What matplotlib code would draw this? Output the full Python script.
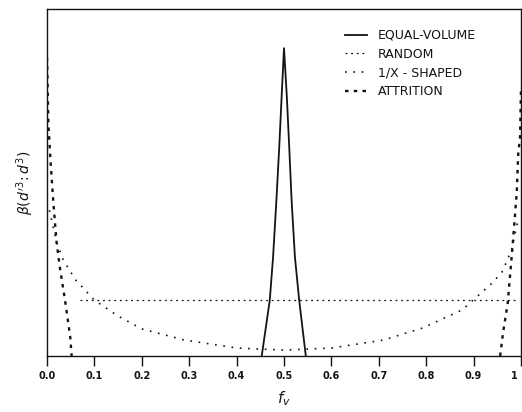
import matplotlib.pyplot as plt
import matplotlib.transforms as mtransforms
import numpy as np

# volume fraction f_v on x, relative weight beta on y (arbitrary units, 0..1)
ev_f = [0.453, 0.470, 0.477, 0.484, 0.490, 0.495, 0.500, 0.506, 0.511, 0.516, 0.523, 0.532, 0.546]
ev_b = [0.0, 0.161, 0.286, 0.45, 0.603, 0.747, 0.887, 0.747, 0.603, 0.45, 0.286, 0.161, 0.0]

rand_f = [0.07, 0.99]
rand_b = [0.161, 0.161]

inv_f = [0.005, 0.02, 0.034, 0.06, 0.10, 0.15, 0.20, 0.29, 0.40, 0.50,
         0.60, 0.71, 0.793, 0.876, 0.939, 0.96, 0.98, 0.995]
inv_b = [0.42, 0.33, 0.277, 0.22, 0.161, 0.115, 0.078, 0.046, 0.023, 0.017,
         0.023, 0.046, 0.081, 0.133, 0.21, 0.242, 0.305, 0.40]

attr_left_f = [0.0, 0.003, 0.008, 0.013, 0.020, 0.027, 0.038, 0.049, 0.052]
attr_left_b = [0.86, 0.666, 0.55, 0.45, 0.33, 0.256, 0.161, 0.055, 0.0]
attr_right_f = [0.956, 0.962, 0.972, 0.981, 0.987, 0.991, 0.994, 0.998, 1.0]
attr_right_b = [0.0, 0.066, 0.153, 0.297, 0.40, 0.47, 0.58, 0.63, 0.77]

xticks = [0.0, 0.1, 0.2, 0.3, 0.4, 0.5, 0.6, 0.7, 0.8, 0.9, 1.0]
xtick_labels = ['0.0', '0.1', '0.2', '0.3', '0.4', '0.5', '0.6', '0.7', '0.8', '0.9', '1']

ink = '#141414'

fig = plt.figure(figsize=(5.22, 4.12), dpi=100)
ax = fig.add_axes([47 / 522, 56 / 412, 474 / 522, 347 / 412])

ax.plot(ev_f, ev_b, color=ink, lw=1.3, label='EQUAL-VOLUME')
ax.plot(rand_f, rand_b, color=ink, lw=0.9, dashes=(1.5, 3), label='RANDOM')
ax.plot(inv_f, inv_b, color=ink, lw=1.2, linestyle=(0, (1, 4)), label='1/X - SHAPED')
ax.plot(attr_left_f, attr_left_b, color=ink, lw=1.7, dashes=(1.5, 2.2), label='ATTRITION')
ax.plot(attr_right_f, attr_right_b, color=ink, lw=1.7, dashes=(1.5, 2.2))

ax.set_xlim(0, 1)
ax.set_ylim(0, 1)
ax.set_yticks([])
ax.set_xticks(xticks)
ax.set_xticklabels(xtick_labels, fontsize=7, fontweight='bold')
ax.tick_params(axis='x', direction='out', length=7, width=1, pad=4, colors=ink)
# pull the last label in so it stays inside the figure
last = ax.get_xticklabels()[-1]
last.set_transform(last.get_transform() +
                   mtransforms.ScaledTranslation(-7 / 100, 0, fig.dpi_scale_trans))
for sp in ax.spines.values():
    sp.set_linewidth(1.0)
    sp.set_color(ink)

ax.set_xlabel(r'$f_v$', fontsize=11, labelpad=6, color=ink)
ax.set_ylabel(r"$\beta(d'^{3}\!:d^{3})$", fontsize=10, labelpad=8, color=ink)

ax.legend(loc='upper left', bbox_to_anchor=(345 / 522, 1 - 29 / 412),
          bbox_transform=fig.transFigure, frameon=False, fontsize=9,
          handlelength=1.75, handletextpad=0.85, labelspacing=0.45,
          borderpad=0, borderaxespad=0, labelcolor=ink)

fig.savefig('out.png', dpi=100)
